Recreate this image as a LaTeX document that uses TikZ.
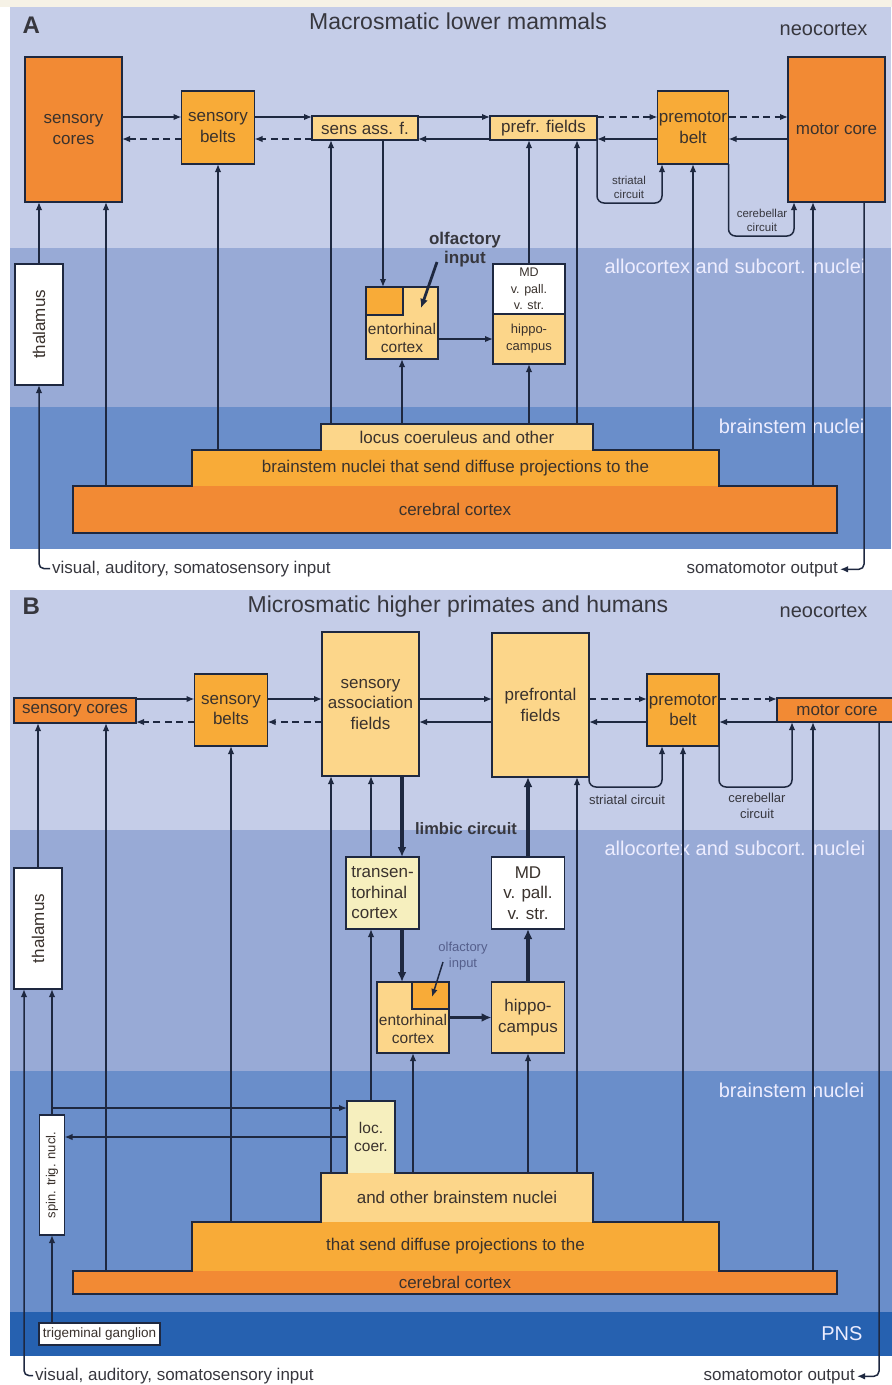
\documentclass[tikz,border=0pt]{standalone}
\usepackage{fontspec}
\setmainfont{Liberation Sans}
\usetikzlibrary{arrows.meta}

\definecolor{paper}{RGB}{246,242,230}
\definecolor{neo}{RGB}{197,205,232}
\definecolor{allo}{RGB}{152,170,214}
\definecolor{stem}{RGB}{106,142,202}
\definecolor{pns}{RGB}{38,97,176}
\definecolor{ocore}{RGB}{242,138,52}
\definecolor{obelt}{RGB}{248,171,56}
\definecolor{oassoc}{RGB}{252,214,138}
\definecolor{opale}{RGB}{246,239,190}
\definecolor{lnc}{RGB}{30,40,64}
\definecolor{txtc}{RGB}{58,50,45}
\definecolor{ttlc}{RGB}{55,55,62}
\definecolor{olfc}{RGB}{85,95,140}

\newcommand\boxfnt{\fontsize{17}{20.5}\selectfont}
\newcommand\smlfnt{\fontsize{11.5}{14}\selectfont}
\newcommand\midfnt{\fontsize{13}{16}\selectfont}
\newcommand\bandfnt{\fontsize{20}{24}\selectfont}
\newcommand\ttlfnt{\fontsize{23}{27}\selectfont}
\newcommand\lblfnt{\fontsize{17}{20}\selectfont}

\tikzset{
  box/.style={draw=lnc,line width=1.5pt,inner sep=1pt,outer sep=0pt,align=center,font=\boxfnt,text=txtc},
  core/.style={box,fill=ocore},
  belt/.style={box,fill=obelt},
  assoc/.style={box,fill=oassoc},
  pale/.style={box,fill=opale},
  wbox/.style={box,fill=white},
  stair/.style={inner sep=0pt,outer sep=0pt,font=\boxfnt,text=txtc},
  ln/.style={draw=lnc,line width=1.5pt},
  arr/.style={ln,->},
  dsh/.style={arr,dash pattern=on 7pt off 4.5pt},
  fat/.style={draw=lnc,line width=3.5pt,-{Latex[length=10pt,width=9pt]}},
  band/.style={anchor=base east,font=\bandfnt,text=white!93!blue},
  ttl/.style={anchor=base,font=\ttlfnt,text=ttlc},
  lbl/.style={font=\lblfnt,text=ttlc,inner sep=2pt},
  circ/.style={font=\smlfnt,text=ttlc,align=center},
}

\begin{document}
\begin{tikzpicture}[x=1pt,y=-1pt,>={Latex[length=8pt,width=6.5pt]}]
  \useasboundingbox (0,0) rectangle (892,1385);
  \fill[paper] (0,0) rectangle (892,7);
  \fill[neo] (10,7) rectangle (891,248);
  \fill[allo] (10,248) rectangle (891,407);
  \fill[stem] (10,407) rectangle (891,549);
  \fill[neo] (10,590) rectangle (892,830);
  \fill[allo] (10,830) rectangle (892,1071);
  \fill[stem] (10,1071) rectangle (892,1312);
  \fill[pns] (10,1312) rectangle (892,1356);

  % panel A
  \node[anchor=base west,font=\fontsize{24}{28}\selectfont\bfseries,text=ttlc] (pA) at (19,33) {A};
  \node[ttl] (tA) at (458,29) {Macrosmatic lower mammals};
  \node[anchor=base east,font=\bandfnt,text=ttlc] (ncA) at (871,35) {neocortex};
  \node[band] (alA) at (869,273) {allocortex and subcort. nuclei};
  \node[band] (bsA) at (868,433) {brainstem nuclei};

  \node[core,minimum width=97,minimum height=145] (scA) at (73.5,129.5) {sensory\\cores};
  \node[belt,minimum width=73,minimum height=73] (sbA) at (218,127.5) {sensory\\belts};
  \node[assoc,minimum width=106,minimum height=24] (saA) at (365,128) {sens ass. f.};
  \node[assoc,minimum width=107,minimum height=24] (pfA) at (543.5,128) {prefr. fields};
  \node[belt,minimum width=71,minimum height=73] (pmA) at (693,127.5) {premotor\\belt};
  \node[core,minimum width=97,minimum height=145] (mcA) at (836.5,129.5) {motor core};
  \node[wbox,minimum width=48,minimum height=121] (thA) at (39,324.5) {};
  \node[rotate=90,font=\boxfnt,text=txtc] at (thA) {thalamus};
  \node[assoc,minimum width=72,minimum height=72] (ecA) at (402,323) {};
  \node[belt,minimum width=37,minimum height=28] (esA) at (384.5,301) {};
  \node[align=center,font=\fontsize{15.5}{18}\selectfont,text=txtc] at (402,337.5) {entorhinal\\cortex};
  \node[wbox,minimum width=72,minimum height=50,font=\fontsize{12.5}{16.5}\selectfont] (mdA) at (529,289) {MD\\v. pall.\\v. str.};
  \node[assoc,minimum width=72,minimum height=50,font=\fontsize{13}{17}\selectfont] (hcA) at (529,339) {hippo-\\campus};
  \node[align=center,font=\fontsize{17}{19}\selectfont\bfseries,text=ttlc] (olfA) at (465,250) {olfactory\\input};

  \node[stair,fill=ocore,minimum width=764,minimum height=47] (ccA) at (455,509.5) {cerebral cortex};
  \node[stair,fill=obelt,minimum width=527,minimum height=36] (bnA) at (455.5,468) {brainstem nuclei that send diffuse projections to the};
  \node[stair,fill=oassoc,minimum width=272,minimum height=26] (lcA) at (457,437) {locus coeruleus and other};
  \draw[ln] (ccA.south west) -- (ccA.north west) -- (bnA.south west) -- (bnA.north west)
    -- (lcA.south west) -- (lcA.north west) -- (lcA.north east) -- (lcA.south east)
    -- (bnA.north east) -- (bnA.south east) -- (ccA.north east) -- (ccA.south east) -- cycle;

  \node[lbl,anchor=base west] (viA) at (50,573) {visual, auditory, somatosensory input};
  \node[lbl,anchor=base east] (moA) at (840,573) {somatomotor output};
  \node[circ] (stA) at (629,187) {striatal\\circuit};
  \node[circ] (ceA) at (762,220) {cerebellar\\circuit};

  \coordinate (upA) at (0,117);
  \coordinate (dnA) at (0,139);
  \draw[arr] (scA.east |- upA) -- (sbA.west |- upA);
  \draw[dsh] (sbA.west |- dnA) -- (scA.east |- dnA);
  \draw[arr] (sbA.east |- upA) -- (saA.west |- upA);
  \draw[dsh] (saA.west |- dnA) -- (sbA.east |- dnA);
  \draw[arr] (saA.east |- upA) -- (pfA.west |- upA);
  \draw[arr] (pfA.west |- dnA) -- (saA.east |- dnA);
  \draw[dsh] (pfA.east |- upA) -- (pmA.west |- upA);
  \draw[arr] (pmA.west |- dnA) -- (pfA.east |- dnA);
  \draw[dsh] (pmA.east |- upA) -- (mcA.west |- upA);
  \draw[arr] (mcA.west |- dnA) -- (pmA.east |- dnA);
  \draw[arr,rounded corners=7pt] (pfA.south east) |- (662,203) -- (pmA.south -| 662,0);
  \draw[arr,rounded corners=7pt] (pmA.south east) |- (794,236) -- (mcA.south -| 794,0);

  \draw[arr] (thA.north) -- (scA.south -| thA.north);
  \draw[arr,rounded corners=5pt] (viA.west) -| (thA.south);
  \draw[arr] (ccA.north -| 106,0) -- (scA.south -| 106,0);
  \draw[arr] (bnA.north -| sbA.south) -- (sbA.south);
  \draw[arr] (lcA.north -| 331,0) -- (saA.south -| 331,0);
  \draw[arr] (saA.south -| 383,0) -- (ecA.north -| 383,0);
  \draw[arr] (lcA.north -| ecA.south) -- (ecA.south);
  \draw[arr] (ecA.east |- hcA.west) -- (hcA.west);
  \draw[arr] (lcA.north -| hcA.south) -- (hcA.south);
  \draw[arr] (mdA.north) -- (pfA.south -| mdA.north);
  \draw[arr] (lcA.north -| 577,0) -- (pfA.south -| 577,0);
  \draw[arr] (bnA.north -| pmA.south) -- (pmA.south);
  \draw[arr] (ccA.north -| 813,0) -- (mcA.south -| 813,0);
  \draw[arr,rounded corners=5pt] (mcA.south -| 864,0) |- (moA.east);
  \coordinate (olfs) at (437,262);
  \coordinate (olft) at (421,308);
  \draw[draw=lnc,line width=2.8pt,-{Latex[length=9pt,width=8pt]}] (olfs) -- (olft);

  % panel B
  \node[anchor=base west,font=\fontsize{24}{28}\selectfont\bfseries,text=ttlc] (pB) at (19,614) {B};
  \node[ttl] (tB) at (458,612) {Microsmatic higher primates and humans};
  \node[anchor=base east,font=\bandfnt,text=ttlc] (ncB) at (871,617) {neocortex};
  \node[band] (alB) at (869,855) {allocortex and subcort. nuclei};
  \node[band] (bsB) at (868,1097) {brainstem nuclei};
  \node[band] (psB) at (866,1340) {PNS};

  \node[core,minimum width=122,minimum height=25] (scB) at (75,710.5) {sensory cores};
  \node[belt,minimum width=73,minimum height=72] (sbB) at (231,710) {sensory\\belts};
  \node[assoc,minimum width=97,minimum height=144] (saB) at (370.5,704) {sensory\\association\\fields};
  \node[assoc,minimum width=97,minimum height=144] (pfB) at (540.5,705) {prefrontal\\fields};
  \node[belt,minimum width=72,minimum height=72] (pmB) at (683,710) {premotor\\belt};
  \node[core,minimum width=120,minimum height=24] (mcB) at (837,710) {motor core};
  \node[wbox,minimum width=48,minimum height=121] (thB) at (38,928.5) {};
  \node[rotate=90,font=\boxfnt,text=txtc] at (thB) {thalamus};
  \node[pale,minimum width=73,minimum height=72,align=left] (teB) at (382.5,893) {transen-\\torhinal\\cortex};
  \node[wbox,minimum width=73,minimum height=72] (mdB) at (528,893) {MD\\v. pall.\\v. str.};
  \node[assoc,minimum width=72,minimum height=71] (ecB) at (413,1017.5) {};
  \node[belt,minimum width=37,minimum height=27] (esB) at (430.5,995.5) {};
  \node[align=center,font=\fontsize{15.5}{18}\selectfont,text=txtc] at (413,1029) {entorhinal\\cortex};
  \node[assoc,minimum width=73,minimum height=71] (hcB) at (528,1017.5) {hippo-\\campus};
  \node[align=center,font=\midfnt,text=olfc] (olfB) at (463,956) {olfactory\\input};
  \node[font=\fontsize{16.5}{19}\selectfont\bfseries,text=ttlc] (lmB) at (466,829) {limbic circuit};
  \node[wbox,minimum width=25,minimum height=120] (stB) at (52,1175) {};
  \node[rotate=90,font=\midfnt,text=txtc] at (stB) {spin. trig. nucl.};
  \node[wbox,minimum width=121,minimum height=22,font=\fontsize{13.5}{16}\selectfont] (tgB) at (99.5,1334) {trigeminal ganglion};

  \node[stair,fill=ocore,minimum width=764,minimum height=23] (ccB) at (455,1282.5) {cerebral cortex};
  \node[stair,fill=obelt,minimum width=527,minimum height=49] (tsB) at (455.5,1246.5) {that send diffuse projections to the};
  \node[stair,fill=oassoc,minimum width=272,minimum height=49] (aoB) at (457,1197.5) {and other brainstem nuclei};
  \node[stair,fill=opale,minimum width=48,minimum height=72,align=center,font=\fontsize{15.5}{18.5}\selectfont] (lcB) at (371,1137) {loc.\\coer.};
  \draw[ln] (ccB.south west) -- (ccB.north west) -- (tsB.south west) -- (tsB.north west)
    -- (aoB.south west) -- (aoB.north west) -- (lcB.south west) -- (lcB.north west)
    -- (lcB.north east) -- (lcB.south east) -- (aoB.north east) -- (aoB.south east)
    -- (tsB.north east) -- (tsB.south east) -- (ccB.north east) -- (ccB.south east) -- cycle;

  \node[lbl,anchor=base west] (viB) at (33,1380) {visual, auditory, somatosensory input};
  \node[lbl,anchor=base east] (moB) at (857,1380) {somatomotor output};
  \node[circ,font=\midfnt] (stB2) at (627,800) {striatal circuit};
  \node[circ,font=\midfnt] (ceB) at (757,805.5) {cerebellar\\circuit};

  \coordinate (upB) at (0,699);
  \coordinate (dnB) at (0,722);
  \draw[arr] (scB.east |- upB) -- (sbB.west |- upB);
  \draw[dsh] (sbB.west |- dnB) -- (scB.east |- dnB);
  \draw[arr] (sbB.east |- upB) -- (saB.west |- upB);
  \draw[dsh] (saB.west |- dnB) -- (sbB.east |- dnB);
  \draw[arr] (saB.east |- upB) -- (pfB.west |- upB);
  \draw[arr] (pfB.west |- dnB) -- (saB.east |- dnB);
  \draw[dsh] (pfB.east |- upB) -- (pmB.west |- upB);
  \draw[arr] (pmB.west |- dnB) -- (pfB.east |- dnB);
  \draw[dsh] (pmB.east |- upB) -- (mcB.west |- upB);
  \draw[arr] (mcB.west |- dnB) -- (pmB.east |- dnB);
  \draw[arr,rounded corners=7pt] (pfB.south east) |- (662,787) -- (pmB.south -| 662,0);
  \draw[arr,rounded corners=7pt] (pmB.south east) |- (792,787) -- (mcB.south -| 792,0);

  \draw[arr] (thB.north) -- (scB.south -| thB.north);
  \draw[arr,rounded corners=5pt] (viB.west) -| (thB.south -| 24,0);
  \draw[arr] (tgB.north -| stB.south) -- (stB.south);
  \draw[arr] (stB.north) -- (thB.south -| stB.north);
  \draw[arr] (stB.north |- 0,1108) -- (lcB.west |- 0,1108);
  \draw[arr] (lcB.west |- 0,1137) -- (stB.east |- 0,1137);
  \draw[arr] (ccB.north -| 106,0) -- (scB.south -| 106,0);
  \draw[arr] (tsB.north -| sbB.south) -- (sbB.south);
  \draw[arr] (aoB.north -| 331,0) -- (saB.south -| 331,0);
  \draw[arr] (lcB.north) -- (teB.south -| lcB.north);
  \draw[arr] (teB.north -| lcB.north) -- (saB.south -| lcB.north);
  \draw[fat] (saB.south -| 402,0) -- (teB.north -| 402,0);
  \draw[fat] (teB.south -| 402,0) -- (ecB.north -| 402,0);
  \draw[fat] (ecB.east) -- (hcB.west);
  \draw[fat] (hcB.north) -- (mdB.south);
  \draw[fat] (mdB.north) -- (pfB.south -| mdB.north);
  \draw[arr] (aoB.north -| ecB.south) -- (ecB.south);
  \draw[arr] (aoB.north -| hcB.south) -- (hcB.south);
  \draw[arr] (aoB.north -| 577,0) -- (pfB.south -| 577,0);
  \draw[arr] (tsB.north -| pmB.south) -- (pmB.south);
  \draw[arr] (ccB.north -| 813,0) -- (mcB.south -| 813,0);
  \draw[arr,rounded corners=5pt] (mcB.south -| 879,0) |- (moB.east);
  \coordinate (olfs2) at (443,962);
  \coordinate (olft2) at (432,997);
  \draw[arr] (olfs2) -- (olft2);
\end{tikzpicture}
\end{document}
